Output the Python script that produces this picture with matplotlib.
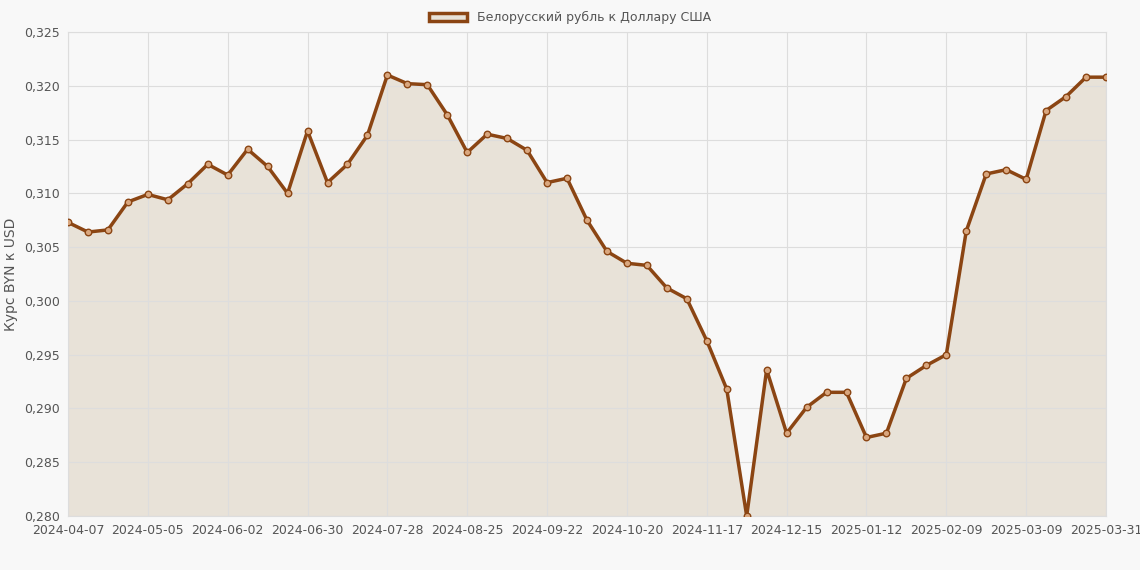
import datetime as dt
import matplotlib.pyplot as plt
import matplotlib.patches as mpatches

# курс BYN к USD, еженедельно
values = [0.3073, 0.3064, 0.3066, 0.3092, 0.3099, 0.3094, 0.3109, 0.3127, 0.3117, 0.3141,
          0.3125, 0.3100, 0.3158, 0.3110, 0.3127, 0.3154, 0.3210, 0.3202, 0.3201, 0.3173,
          0.3138, 0.3155, 0.3151, 0.3140, 0.3110, 0.3114, 0.3075, 0.3046, 0.3035, 0.3033,
          0.3012, 0.3002, 0.2963, 0.2918, 0.2800, 0.2936, 0.2877, 0.2901, 0.2915, 0.2915,
          0.2873, 0.2877, 0.2928, 0.2940, 0.2950, 0.3065, 0.3118, 0.3122, 0.3113, 0.3177,
          0.3190, 0.3208, 0.3208]
start = dt.date(2024, 4, 7)
dates = [(start + dt.timedelta(weeks=i)).isoformat() for i in range(len(values) - 1)] + ['2025-03-31']
series_label = 'Белорусский рубль к Доллару США'
yticks = [0.280 + 0.005 * i for i in range(10)]

line_color = '#8B4513'
fill_color = '#e8e2d8'
bg = '#f8f8f8'

fig = plt.figure(figsize=(11.4, 5.7), dpi=100, facecolor=bg)
ax = fig.add_axes([68 / 1140, 1 - 516 / 570, (1106 - 68) / 1140, (516 - 32) / 570])
ax.set_facecolor(bg)
x = list(range(len(values)))
ax.fill_between(x, values, 0.280, color=fill_color, zorder=1)
ax.plot(x, values, color=line_color, lw=2.5, zorder=3)
ax.scatter(x, values, s=22, facecolor='#d9a77f', edgecolor=line_color, lw=1, zorder=4)

ax.set_xlim(0, len(values) - 1)
ax.set_ylim(0.280, 0.325)
ticks = list(range(0, len(values) - 1, 4)) + [len(values) - 1]
ticks = [t for t in ticks if t != 52 or True]
ticks = sorted(set(t for t in ticks if t <= 48) | {len(values) - 1})
ax.set_xticks(ticks)
ax.set_xticklabels([dates[t] for t in ticks], fontsize=9, color='#555555')
ax.set_yticks(yticks)
ax.set_yticklabels([f'{v:.3f}'.replace('.', ',') for v in yticks], fontsize=9, color='#555555')
ax.tick_params(length=0, pad=6)
ax.grid(True, color='#dddddd', lw=0.8, zorder=0)
for s in ax.spines.values():
    s.set_color('#dddddd')
ax.set_ylabel('Курс BYN к USD', fontsize=10, color='#555555')

handle = mpatches.Patch(facecolor=fill_color, edgecolor=line_color, lw=2.5)
fig.legend([handle], [series_label], loc='upper center', bbox_to_anchor=(0.5, 1.0),
           frameon=False, fontsize=9, labelcolor='#555555', handlelength=3)

fig.savefig('out.png', dpi=100, facecolor=bg)
